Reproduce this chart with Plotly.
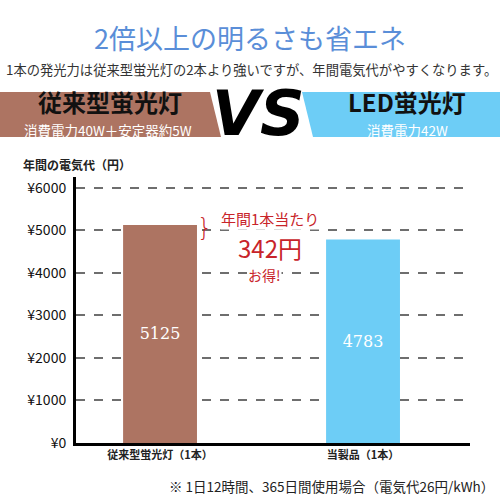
import plotly.graph_objects as go

# chart data
categories = ["従来型蛍光灯（1本）", "当製品（1本）"]
annual_cost = [5125, 4783]
bar_colors = ["#ad7462", "#6dcdf6"]
tick_values = [0, 1000, 2000, 3000, 4000, 5000, 6000]
tick_labels = ["¥0", "¥1000", "¥2000", "¥3000", "¥4000", "¥5000", "¥6000"]

JP = "Noto Sans CJK JP"
W = H = 500


def px(x, y):
    # pixel coords -> paper coords
    return x / W, 1 - y / H


fig = go.Figure()
fig.add_trace(go.Bar(
    x=categories,
    y=annual_cost,
    width=0.364,
    marker=dict(color=bar_colors, line=dict(width=0)),
    text=[str(v) for v in annual_cost],
    textposition="inside",
    insidetextanchor="middle",
    textfont=dict(family="DejaVu Serif", size=16, color="white"),
    hoverinfo="skip",
))

shapes = [
    # brown banner
    dict(type="path", xref="paper", yref="paper",
         path="M 0,{0} L {1},{0} L {2},{3} L 0,{3} Z".format(
             1 - 92 / H, 210 / W, 221 / W, 1 - 137 / H),
         fillcolor="#ad7462", line=dict(width=0), layer="below"),
    # blue banner
    dict(type="path", xref="paper", yref="paper",
         path="M {1},{0} L 1,{0} L 1,{3} L {2},{3} Z".format(
             1 - 92 / H, 302 / W, 313 / W, 1 - 137 / H),
         fillcolor="#6dcdf6", line=dict(width=0), layer="below"),
    # darker dashed line at 4000
    dict(type="line", xref="paper", yref="y", x0=76 / W, x1=470 / W, y0=4000, y1=4000,
         line=dict(color="#222", width=1.2, dash="dash"), layer="below"),
]

annotations = []


def note(x, y, text, size, color="#222", family=JP, xanchor="center", **kw):
    ax, ay = px(x, y)
    annotations.append(dict(x=ax, y=ay, xref="paper", yref="paper", text=text,
                            showarrow=False, xanchor=xanchor, yanchor="middle",
                            font=dict(family=family, size=size, color=color), **kw))


note(250, 38, "2倍以上の明るさも省エネ", 27, "#5a8ed8")
note(251, 69, "1本の発光力は従来型蛍光灯の2本より強いですが、年間電気代がやすくなります。", 13.3, "#333")
note(110, 102, "<b>従来型蛍光灯</b>", 24, "#111")
note(108, 130, "消費電力40W＋安定器約5W", 13.5, "white")
note(407, 102, "<b>LED蛍光灯</b>", 24, "#111")
note(407, 130, "消費電力42W", 13.5, "white")
note(258, 114, "<b><i>VS</i></b>", 62, "#000", family="DejaVu Sans")
note(21, 164, "<b>年間の電気代（円）</b>", 12, "#222", xanchor="left")
note(204, 228, "}", 24, "#c8242a", family="DejaVu Sans Light")
note(270, 219, "年間1本当たり", 15, "#c8242a", bgcolor="white", borderpad=0)
note(270, 247, "342円", 24, "#c8242a", bgcolor="white", borderpad=0)
note(264, 275, "お得!", 14, "#c8242a", bgcolor="white", borderpad=0)
note(496, 486, "※ 1日12時間、365日間使用場合（電気代26円/kWh）", 13.5, "#222", xanchor="right")

x0, y_top = px(76, 177)
x1, y_bot = px(470, 443)

fig.update_layout(
    width=W, height=H,
    margin=dict(l=0, r=0, t=0, b=0),
    paper_bgcolor="white",
    plot_bgcolor="white",
    showlegend=False,
    shapes=shapes,
    annotations=annotations,
    xaxis=dict(
        domain=[x0, x1],
        range=[-0.414, 1.527],
        automargin=False,
        showline=True, linecolor="black", linewidth=3,
        showgrid=False, ticks="",
        tickvals=categories,
        ticktext=["<b>" + c + "</b>" for c in categories],
        tickfont=dict(family=JP, size=11, color="#222"),
        fixedrange=True,
    ),
    yaxis=dict(
        domain=[y_bot, y_top],
        range=[0, 6250],
        automargin=False,
        tickvals=tick_values,
        ticktext=tick_labels,
        showline=True, linecolor="black", linewidth=3,
        showgrid=True, gridcolor="#6e6e6e", gridwidth=1.5, griddash="dash",
        zeroline=False, ticks="",
        tickfont=dict(family=JP, size=14, color="#111"),
        ticklabelstandoff=4,
        fixedrange=True,
    ),
)

# the page body has a default 8px margin; drop it so the figure sits at 0,0
fig.write_html("out.html", config={"displayModeBar": False},
               post_script="document.body.style.margin='0';")
